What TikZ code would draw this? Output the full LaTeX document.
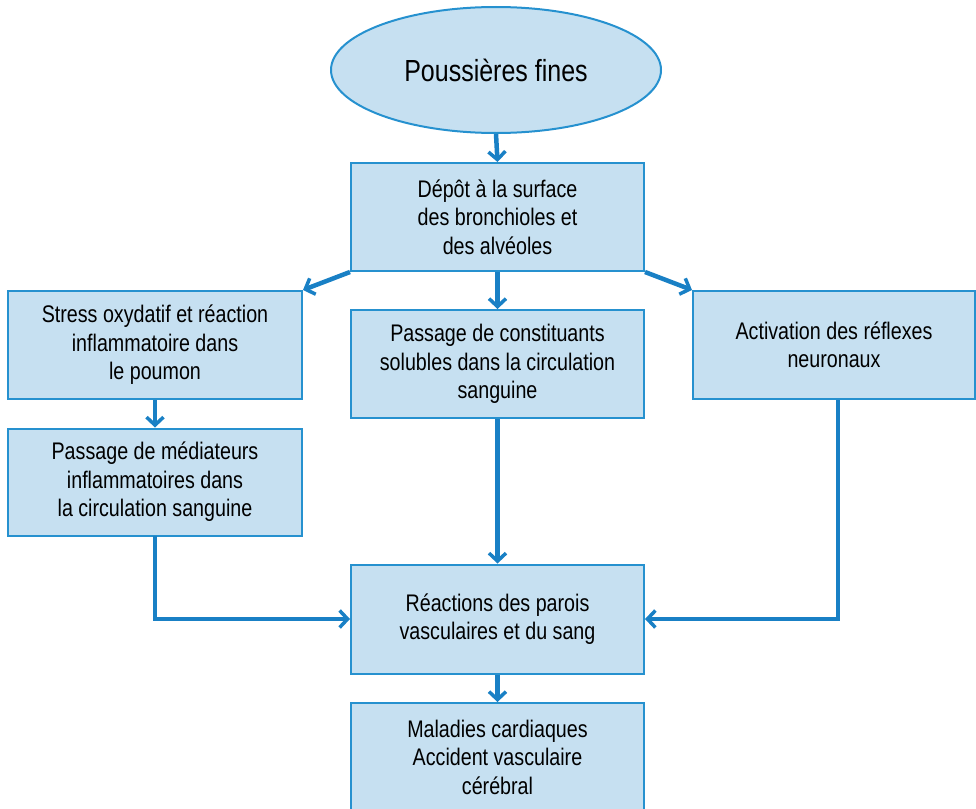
\documentclass[tikz,border=0pt]{standalone}
\usepackage{fontspec}
\setmainfont[FakeStretch=0.82]{Liberation Sans}
\usetikzlibrary{shapes.geometric,arrows.meta}
\definecolor{boxfill}{RGB}{198,224,241}
\definecolor{boxline}{RGB}{38,145,207}
\definecolor{arrowc}{RGB}{25,128,197}
\begin{document}
\begin{tikzpicture}[x=1pt,y=-1pt,
  box/.style={draw=boxline, fill=boxfill, line width=2pt, rectangle, inner sep=0pt, align=center,
    font=\fontsize{24}{28.5}\selectfont, text=black, minimum width=293pt, minimum height=108pt},
  arr/.style={draw=arrowc, line width=4.5pt, line join=miter,
    -{Straight Barb[length=8pt,width=17pt,line width=3.5pt]}}]
\useasboundingbox (0,0) rectangle (976,808);
\node[ellipse, draw=boxline, fill=boxfill, line width=2pt, minimum width=330pt, minimum height=126pt,
  inner sep=0pt, font=\fontsize{30.5}{36}\selectfont] (pf) at (496,70) {Poussières fines};
\node[box] (dep) at (497.5,217) {Dépôt à la surface\\des bronchioles et\\des alvéoles};
\node[box, minimum width=294pt] (str) at (155,345) {Stress oxydatif et réaction\\inflammatoire dans\\le poumon};
\node[box, minimum width=294pt, minimum height=107pt] (med) at (155,482) {Passage de médiateurs\\inflammatoires dans\\la circulation sanguine};
\node[box] (sol) at (497.5,364) {Passage de constituants\\solubles dans la circulation\\sanguine};
\node[box, minimum width=282pt] (act) at (834,345) {Activation des réflexes\\neuronaux};
\node[box, minimum height=109pt] (rea) at (497.5,619) {Réactions des parois\\vasculaires et du sang};
\node[box] (mal) at (497.5,757) {Maladies cardiaques\\Accident vasculaire\\cérébral};
\coordinate (actout) at (838,400);
\coordinate (medout) at (155,536);
\draw[arr] (pf.south) -- (dep.north);
\draw[arr] (dep.south west) -- (str.north east);
\draw[arr] (dep.south) -- (sol.north);
\draw[arr] (dep.south east) -- (act.north west);
\draw[arr] (str.south) -- (med.north);
\draw[arr] (medout) |- (rea.west);
\draw[arr] (sol.south) -- (rea.north);
\draw[arr] (actout) |- (rea.east);
\draw[arr] (rea.south) -- (mal.north);
\end{tikzpicture}
\end{document}
